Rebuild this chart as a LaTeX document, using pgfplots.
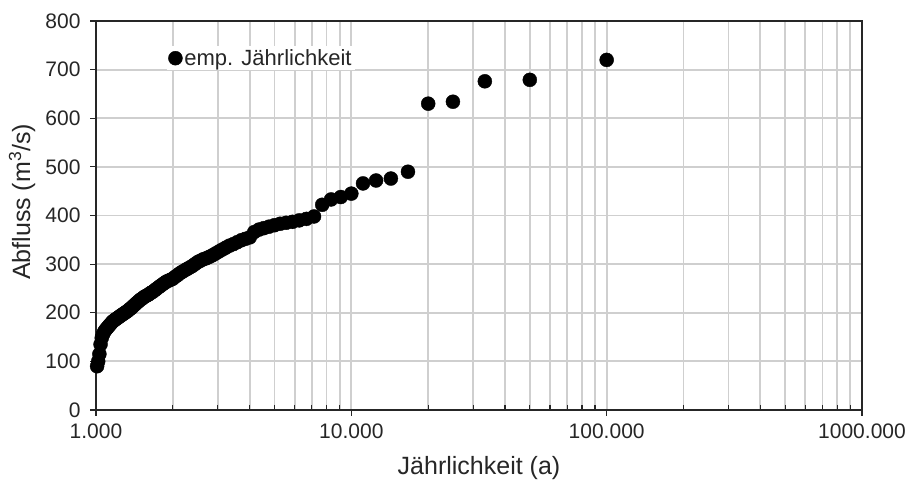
\documentclass[border=0pt]{standalone}
\usepackage{pgfplots}
\pgfplotsset{compat=1.18}
\usepackage{fontspec}
\setmainfont{Liberation Sans}

\definecolor{gridgray}{HTML}{CFCFCF}
\definecolor{axisdark}{HTML}{262626}

% Empirical return periods T = 100/m and ranked discharges
\pgfplotstableread{
T Q
100 720
50 679
33.333 676
25 634
20 630
16.667 490
14.286 476
12.5 472
11.111 466
10 445
9.091 438
8.333 433
7.692 422
7.143 398
6.667 393
6.25 390
5.882 387
5.556 385
5.263 383
5 380
4.762 377
4.545 374
4.348 371
4.167 366
4 355
3.846 352
3.704 349
3.571 345
3.448 341
3.333 338
3.226 334
3.125 330
3.03 326
2.941 322
2.857 318
2.778 315
2.703 312
2.632 310
2.564 307
2.5 304
2.439 300
2.381 296
2.326 293
2.273 290
2.222 287
2.174 284
2.128 281
2.083 277
2.041 274
2 270
1.961 268
1.923 266
1.887 264
1.852 261
1.818 258
1.786 255
1.754 252
1.724 249
1.695 246
1.667 243
1.639 241
1.613 238
1.587 236
1.563 234
1.538 232
1.515 229
1.493 227
1.471 224
1.449 221
1.429 218
1.408 215
1.389 212
1.37 209
1.351 207
1.333 204
1.316 202
1.299 200
1.282 198
1.266 196
1.25 194
1.235 192
1.22 190
1.205 188
1.19 186
1.176 184
1.163 182
1.149 179
1.136 176
1.124 173
1.111 170
1.099 167
1.087 164
1.075 160
1.064 155
1.053 148
1.042 135
1.031 115
1.02 100
1.01 90
}\datatable

\begin{document}
\begin{tikzpicture}
\begin{axis}[
  at={(0pt,0pt)}, anchor=south west,
  scale only axis,
  width=766pt, height=389pt,
  xmode=log,
  xmin=1, xmax=1000,
  ymin=0, ymax=800,
  xtick={1,10,100,1000},
  xticklabels={1.000,10.000,100.000,1000.000},
  minor xtick={2,3,4,5,6,7,8,9,20,30,40,50,60,70,80,90,200,300,400,500,600,700,800,900},
  ytick={0,100,...,800},
  xminorgrids=true, xmajorgrids=true, ymajorgrids=true,
  grid style={gridgray, line width=1.8pt},
  minor grid style={gridgray, line width=1.8pt},
  axis line style={axisdark, line width=1.8pt},
  tick style={axisdark, line width=1.2pt},
  tick align=outside,
  major tick length=6pt,
  minor tick length=-5pt,
  xtick pos=bottom, ytick pos=left,
  /pgf/number format/assume math mode=true,
  ticklabel style={font=\fontsize{21}{25}\selectfont, text=axisdark},
  yticklabel style={xshift=-6pt},
  xticklabel style={yshift=-4pt},
  xlabel={Jährlichkeit (a)},
  ylabel={Abfluss (m\textsuperscript{3}/s)},
  label style={font=\fontsize{25}{29}\selectfont, text=axisdark},
  xlabel style={at={(rel axis cs:0.5,0)}, anchor=center, yshift=-58pt},
  ylabel style={at={(axis description cs:-0.0966,0.535)}, anchor=center},
  clip=false,
  legend style={
    at={(rel axis cs:0.093,0.935)}, anchor=north west,
    draw=none, fill=white, inner sep=1pt,
    font=\fontsize{22}{26}\selectfont, text=axisdark,
    legend cell align=left,
  },
  legend image code/.code={\draw[mark=*, mark size=7pt, black, mark options={fill=black}] plot coordinates {(0.15cm,0cm)};},
]
% frame drawn in the same dark tone on all four sides
\draw[axisdark, line width=1.8pt] (rel axis cs:0,0) rectangle (rel axis cs:1,1);
\addplot[only marks, mark=*, mark size=7pt, black, mark options={fill=black}]
  table[x=T, y=Q] {\datatable};
\addlegendentry{emp. Jährlichkeit}
\end{axis}
\pgfresetboundingbox
\path (-96pt,-76pt) rectangle (814pt,410pt);
\end{tikzpicture}
\end{document}
